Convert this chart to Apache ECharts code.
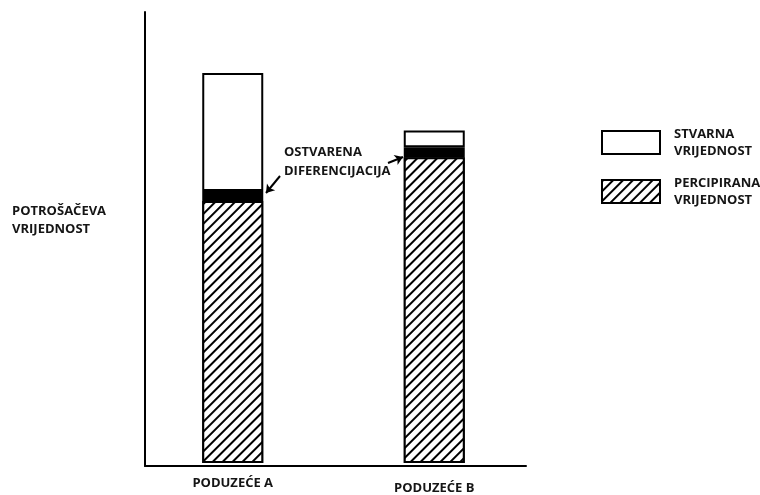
<!DOCTYPE html>
<html>
<head>
<meta charset="utf-8">
<script src="https://cdn.jsdelivr.net/npm/echarts@6/dist/echarts.min.js"></script>
<style>html,body{margin:0;padding:0;background:#fff}#c{width:760px;height:495px}</style>
</head>
<body>
<div id="c"></div>
<script>
var categories = ['PODUZEĆE A', 'PODUZEĆE B'];
var percipirana = [58.1, 67.8];
var diferencijacija = [2.2, 2.2];
var stvarna = [26.2, 3.7];
var seriesNames = ['STVARNA\nVRIJEDNOST', 'PERCIPIRANA\nVRIJEDNOST', 'OSTVARENA DIFERENCIJACIJA'];

var ink = '#151515';
var font = 'Open Sans';
var hatch = {
  symbol: 'rect',
  color: '#000',
  backgroundColor: '#fff',
  dashArrayX: [1, 0],
  dashArrayY: [2, 5],
  rotation: -Math.PI / 4
};

var chart = echarts.init(document.getElementById('c'), null, {renderer: 'canvas'});
chart.setOption({
  animation: false,
  backgroundColor: '#fff',
  grid: [
    {left: 145, top: 12, width: 381, height: 454},
    {left: 132, top: 12, width: 403, height: 454}
  ],
  xAxis: [
    {gridIndex: 0, type: 'value', min: 0, max: 1, z: 5,
     axisLine: {show: true, onZero: false, lineStyle: {color: '#000', width: 2}},
     axisTick: {show: false}, axisLabel: {show: false}, splitLine: {show: false}},
    {gridIndex: 1, type: 'category',
     data: [
       {value: categories[0]},
       {value: categories[1], textStyle: {padding: [5, 0, 0, 0]}}
     ],
     axisLine: {show: false}, axisTick: {show: false},
     axisLabel: {margin: 14, color: ink, fontFamily: font, fontWeight: 'bold', fontSize: 13}}
  ],
  yAxis: [
    {gridIndex: 0, type: 'value', min: 0, max: 100,
     axisLine: {show: true, lineStyle: {color: '#000', width: 2}},
     axisTick: {show: false}, axisLabel: {show: false}, splitLine: {show: false}},
    {gridIndex: 1, type: 'value', min: 0, max: 100, show: false, splitLine: {show: false}}
  ],
  legend: {
    orient: 'vertical',
    left: 601,
    top: 120.5,
    padding: 0,
    itemWidth: 58,
    itemHeight: 23,
    itemGap: 5,
    icon: 'rect',
    selectedMode: false,
    data: [seriesNames[0], seriesNames[1]],
    textStyle: {color: ink, fontFamily: font, fontWeight: 'bold', fontSize: 13, lineHeight: 17, padding: [10, 0, 0, 9]}
  },
  graphic: [
    {type: 'text', left: 12, top: 202,
     style: {text: 'POTROŠAČEVA\nVRIJEDNOST', fill: ink, font: 'bold 13px "Open Sans"', lineHeight: 18}},
    {type: 'text', left: 284, top: 143,
     style: {text: 'OSTVARENA\nDIFERENCIJACIJA', fill: ink, font: 'bold 13px "Open Sans"', lineHeight: 19}}
  ],
  series: [
    {name: seriesNames[1], type: 'bar', xAxisIndex: 1, yAxisIndex: 1, stack: 's', barWidth: 61,
     data: percipirana,
     itemStyle: {color: '#fff', borderColor: '#000', borderWidth: 2, decal: hatch}},
    {name: seriesNames[2], type: 'bar', xAxisIndex: 1, yAxisIndex: 1, stack: 's', barWidth: 61, z: 3,
     data: diferencijacija,
     itemStyle: {color: '#000', borderColor: '#000', borderWidth: 2},
     markLine: {
       silent: true, symbol: ['none', 'arrow'], symbolSize: 8,
       lineStyle: {color: '#000', width: 2, type: 'solid'},
       label: {show: false},
       data: [
         [{x: 280, y: 176}, {x: 266, y: 193}],
         [{x: 388, y: 163}, {x: 403, y: 157}]
       ]
     }},
    {name: seriesNames[0], type: 'bar', xAxisIndex: 1, yAxisIndex: 1, stack: 's', barWidth: 61,
     data: stvarna,
     itemStyle: {color: '#fff', borderColor: '#000', borderWidth: 2}}
  ]
});
</script>
</body>
</html>
